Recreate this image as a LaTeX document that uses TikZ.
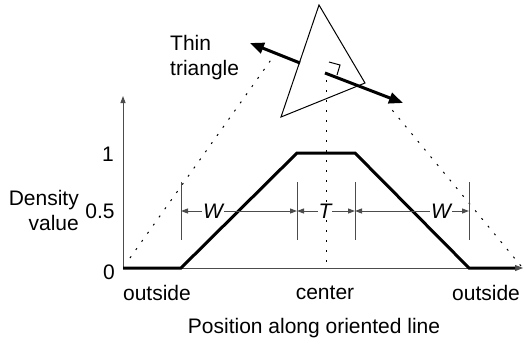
\documentclass[tikz,border=0pt]{standalone}
\usepackage{fontspec}
\setmainfont{Liberation Sans}
\usetikzlibrary{arrows.meta}
\begin{document}
\begin{tikzpicture}[x=1pt,y=-1pt,
  lbl/.style={font=\fontsize{21}{25}\selectfont, inner sep=0pt},
  axisline/.style={draw=black!70, line width=1pt},
  dimline/.style={draw=black!70, line width=1pt},
  dimarrow/.style={draw=black!70, line width=1pt, {Triangle[length=7pt,width=5pt]}-{Triangle[length=7pt,width=5pt]}},
  profile/.style={draw=black, line width=3pt, line join=miter},
  bigarrow/.style={draw=black, line width=3pt, -{Triangle[length=14pt,width=11pt]}},
  dots/.style={draw=black, line width=1pt, dash pattern=on 2pt off 8pt},
  dimlab/.style={font=\fontsize{21}{25}\selectfont\itshape, fill=white, inner sep=1pt}]
\useasboundingbox (0,0) rectangle (524,346);
% points
\coordinate (O) at (123,268);
\coordinate (Yt) at (123,96);
\coordinate (Xr) at (523,268);
\coordinate (Xe) at (515,268);
\coordinate (A) at (181,268);
\coordinate (B) at (297,153);
\coordinate (C) at (355,153);
\coordinate (D) at (469,268);
% dotted lines
\coordinate (L0) at (130,258);
\coordinate (L1) at (273,57);
\coordinate (R0) at (521,266);
\coordinate (R1) at (388,105);
\coordinate (M0) at (326,80);
\coordinate (M1) at (326,268);
\draw[dots] (L0) -- (L1);
\draw[dots] (R0) -- (R1);
\draw[dots] (M0) -- (M1);
% axes
\draw[axisline, -{Triangle[length=7pt,width=5pt]}] (O) -- (Yt);
\draw[axisline, -{Triangle[length=8pt,width=6pt]}] (O) -- (Xr);
% profile
\draw[profile] (O) -- (A) -- (B) -- (C) -- (D) -- (Xe);
% dimension ticks
\foreach \n/\x in {t1/181,t2/297,t3/355,t4/469}{
  \coordinate (\n a) at (\x,182);
  \coordinate (\n b) at (\x,240);
  \coordinate (\n m) at (\x,211);
  \draw[dimline] (\n a) -- (\n b);
}
\draw[dimarrow] (t1m) -- (t2m);
\draw[dimarrow] (t2m) -- (t3m);
\draw[dimarrow] (t3m) -- (t4m);
\node[dimlab] (w1) at (213,211) {W};
\node[dimlab] (tt) at (325,211) {T};
\node[dimlab] (w2) at (441,211) {W};
% triangle
\coordinate (P1) at (319,5);
\coordinate (P2) at (365,83);
\coordinate (P3) at (281,117);
\draw[line width=1pt, line join=miter] (P1) -- (P2) -- (P3) -- cycle;
% arrows
\coordinate (a1s) at (300,63);
\coordinate (a1e) at (250,43);
\coordinate (a2s) at (325,73);
\coordinate (a2e) at (403,103);
\draw[bigarrow] (a1s) -- (a1e);
\draw[bigarrow] (a2s) -- (a2e);
% right angle mark
\coordinate (q1) at (329,62);
\coordinate (q2) at (340,65);
\coordinate (q3) at (337,75);
\draw[line width=1pt] (q1) -- (q2) -- (q3);
% labels
\node[lbl, align=left, anchor=west] (thin) at (170,58) {Thin\\triangle};
\node[lbl, align=right, anchor=east] (dens) at (79,210) {Density\\value};
\node[lbl] (y1) at (108,154) {1};
\node[lbl] (y05) at (100,211) {0.5};
\node[lbl] (y0) at (109,272) {0};
\node[lbl] (o1) at (157,293) {outside};
\node[lbl] (cen) at (325,293) {center};
\node[lbl] (o2) at (486,293) {outside};
\node[lbl] (pos) at (314,328) {Position along oriented line};
\end{tikzpicture}
\end{document}
